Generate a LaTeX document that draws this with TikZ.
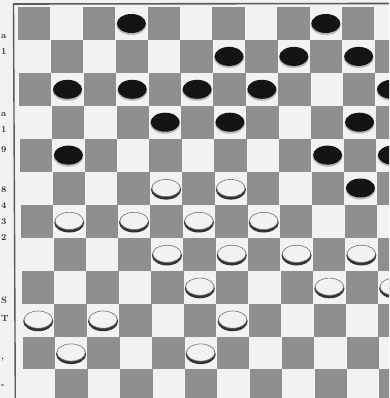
\documentclass[tikz,border=0pt]{standalone}
\begin{document}
\begin{tikzpicture}[x=1pt,y=-1pt]
\definecolor{paper}{RGB}{242,242,242}
\definecolor{darksq}{RGB}{143,143,143}
\definecolor{framec}{RGB}{90,90,90}
\tikzset{
  darkcell/.style={fill=darksq},
  blackman/.style={fill=black!92},
  blackrim/.style={fill=gray!55},
  whiteman/.style={fill=paper,draw=black!55,line width=0.6pt},
  whiterim/.style={fill=black!80},
  marg/.style={font=\bfseries\fontsize{9}{9}\selectfont,text=black!80,inner sep=0pt}
}
\useasboundingbox (0,0) rectangle (389,398);
\fill[paper] (0,0) rectangle (389,398);
\begin{scope}
\clip (0,0) rectangle (389,398);
% dark squares
\foreach \r in {0,...,11}{
  \foreach \k in {0,...,11}{
    \pgfmathtruncatemacro{\parity}{mod(\r+\k,2)}
    \ifnum\parity=0
      \pgfmathsetmacro{\xa}{18+0.45*\r+32.4*\k}
      \pgfmathsetmacro{\ya}{7.5+32.9*\r}
      \fill[darkcell] (\xa,\ya) rectangle ++(32.4,32.9);
    \fi
  }
}
% black pieces
\foreach \r/\k in {0/3,0/9,1/6,1/8,1/10,2/1,2/3,2/5,2/7,2/11,3/4,3/6,3/10,4/1,4/9,4/11,5/10}{
  \pgfmathsetmacro{\cx}{18+0.45*\r+32.4*\k+16.2}
  \pgfmathsetmacro{\cy}{7.5+32.9*\r+16}
  \fill[blackrim] (\cx,\cy+1.5) ellipse (15 and 10);
  \fill[blackman] (\cx,\cy) ellipse (14.5 and 9.5);
}
% white pieces
\foreach \r/\k in {5/4,5/6,6/1,6/3,6/5,6/7,7/4,7/6,7/8,7/10,8/5,8/9,8/11,9/0,9/2,9/6,10/1,10/5}{
  \pgfmathsetmacro{\cx}{18+0.45*\r+32.4*\k+16.2}
  \pgfmathsetmacro{\cy}{7.5+32.9*\r+16}
  \fill[whiterim] (\cx,\cy+1.8) ellipse (15 and 9.8);
  \filldraw[whiteman] (\cx,\cy) ellipse (14.2 and 8.6);
}
\end{scope}
% frame
\draw[framec,line width=1.6pt] (13.5,4) -- (389,3.5);
\draw[framec,line width=1.4pt] (13.5,3.5) -- (15.3,398);
% margin text fragments
\foreach \yy/\t in {36/a,52/1,114/a,130/1,150/9,190/8,206/4,222/3,238/2,300/S,318/T,360/{,},386/{-}}{
  \node[marg,anchor=west] (m\yy) at (1,\yy) {\t};
}
\end{tikzpicture}
\end{document}
